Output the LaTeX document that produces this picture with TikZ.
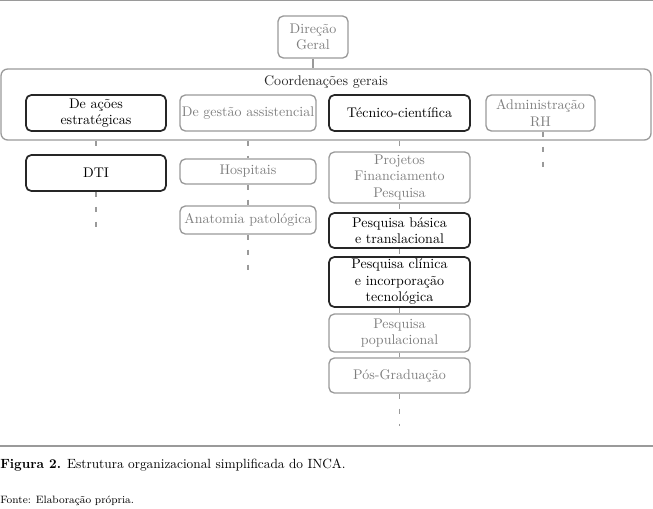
\documentclass[tikz,border=0pt]{standalone}
\usepackage[dvipsnames]{xcolor}
\usepackage{tikz}
\usetikzlibrary{positioning}
\usepackage{amsmath,amssymb}

\definecolor{lightrule}{HTML}{9A9A9A}
\definecolor{greytext}{HTML}{7E7E7E}

\tikzset{
  unitbox/.style={draw=lightrule, line width=1pt, rounded corners=4pt, align=center,
    inner sep=0pt, text=greytext, font=\fontsize{10.5}{12.4}\selectfont},
  keybox/.style={unitbox, draw=black!85, line width=1.3pt, text=black},
  link/.style={draw=lightrule, line width=1pt, dash pattern=on 3.75pt off 7.5pt},
}

\begin{document}
\begin{tikzpicture}[x=0.75pt,y=-0.75pt]
\useasboundingbox (0,0) rectangle (653,508);
\draw[lightrule, line width=0.8pt] (0,0.5) -- (653,0.5);
\draw[lightrule, line width=0.8pt] (0,446) -- (653,446);
% direcao e coordenacoes
\node[unitbox, minimum width=52.5pt, minimum height=31.5pt] (dg) at (313,37) {Direção\\Geral};
\node[draw=lightrule, line width=1pt, rounded corners=5pt, minimum width=487.5pt,
  minimum height=53.25pt, inner sep=0pt] (cg) at (326,104.5) {};
\node[font=\fontsize{10.5}{12.4}\selectfont, text=black!85] (cgtitle) at (326,82) {Coordenações gerais};
\node[keybox, minimum width=105pt, minimum height=27pt] (estr) at (96,113) {De ações\\estratégicas};
\node[unitbox, minimum width=102pt, minimum height=27pt] (gest) at (248,113) {De gestão assistencial};
\node[keybox, minimum width=105.75pt, minimum height=27pt] (tec) at (399.5,113) {Técnico-científica};
\node[unitbox, minimum width=81.75pt, minimum height=27pt] (adm) at (540.5,113) {Administração\\RH};
% unidades
\node[keybox, minimum width=105pt, minimum height=27pt] (dti) at (96,173) {DTI};
\node[unitbox, minimum width=102pt, minimum height=18.75pt] (hosp) at (248,171.5) {Hospitais};
\node[unitbox, minimum width=102pt, minimum height=21pt] (anat) at (248,220) {Anatomia patológica};
\node[unitbox, minimum width=105.75pt, minimum height=38.25pt] (proj) at (399.5,177.5) {Projetos\\Financiamento\\Pesquisa};
\node[keybox, minimum width=105.75pt, minimum height=26.25pt] (basic) at (399.5,230.5) {Pesquisa básica\\e translacional};
\node[keybox, minimum width=105.75pt, minimum height=37.5pt] (clin) at (399.5,282) {Pesquisa clínica\\e incorporação\\tecnológica};
\node[unitbox, minimum width=105.75pt, minimum height=28.5pt] (popul) at (399.5,333) {Pesquisa\\populacional};
\node[unitbox, minimum width=105.75pt, minimum height=26.25pt] (pos) at (399.5,375.5) {Pós-Graduação};
\coordinate (dtiend) at (96,227);
\coordinate (anatend) at (248,270);
\coordinate (posend) at (399.5,426);
\coordinate (admend) at (543,176);
% ligacoes
\draw[lightrule, line width=1pt] (dg.south) -- (dg.south |- cg.north);
\draw[link] (cg.south -| dti.north) -- (dti.north);
\draw[link] (dti) -- (dtiend);
\draw[link] (cg.south -| hosp.north) -- (hosp);
\draw[link] (hosp) -- (anat);
\draw[link] (anat) -- (anatend);
\draw[link] (cg.south -| proj.north) -- (proj);
\draw[link] (proj) -- (basic);
\draw[link] (basic) -- (clin);
\draw[link] (clin) -- (popul);
\draw[link] (popul) -- (pos);
\draw[link] (pos) -- (posend);
\draw[link] (adm.south -| admend) -- (admend);
% legenda
\node[anchor=base west, inner sep=0pt, font=\fontsize{10}{12}\selectfont] (caption) at (0,468)
  {\textbf{Figura 2.} Estrutura organizacional simplificada do INCA.};
\node[anchor=base west, inner sep=0pt, font=\fontsize{8}{10}\selectfont] (source) at (0,503)
  {Fonte: Elaboração própria.};
\end{tikzpicture}
\end{document}
